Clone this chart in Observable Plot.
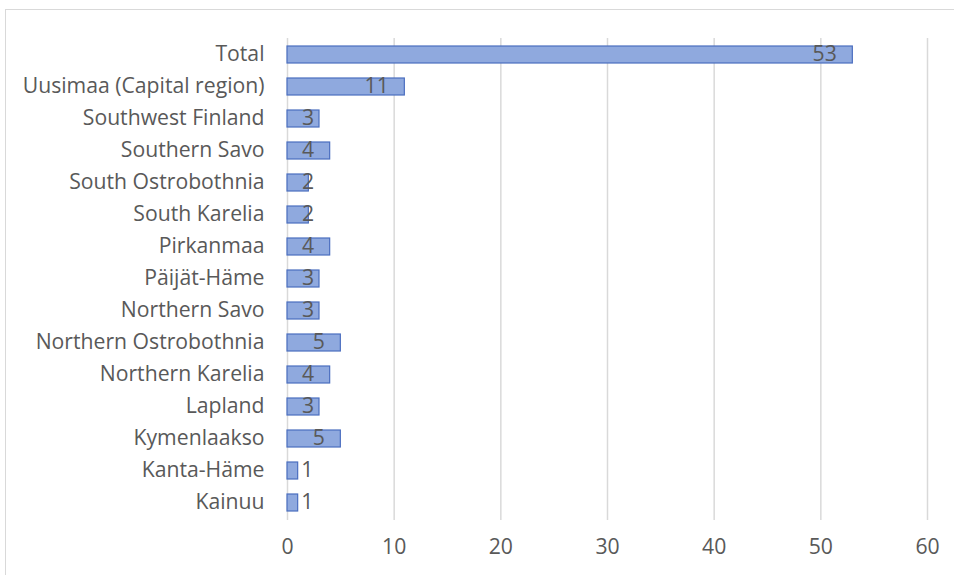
<!DOCTYPE html>
<html>
<head>
<meta charset="utf-8">
<script src="https://cdn.jsdelivr.net/npm/d3@7"></script>
<script src="https://cdn.jsdelivr.net/npm/@observablehq/plot@0.6"></script>
<style>
  html, body { margin: 0; padding: 0; background: #fff; }
  #wrap { position: relative; width: 954px; height: 575px; overflow: hidden; }
  #frame { position: absolute; left: 5px; top: 9px; width: 960px; height: 580px; border-top: 1px solid #d9d9d9; border-left: 1px solid #d9d9d9; }
  #chart { position: absolute; left: 0; top: 0; }
</style>
</head>
<body>
<div id="wrap"><div id="frame"></div><div id="chart"></div></div>
<script>
const regions = ["Total", "Uusimaa (Capital region)", "Southwest Finland", "Southern Savo", "South Ostrobothnia", "South Karelia", "Pirkanmaa", "Päijät-Häme", "Northern Savo", "Northern Ostrobothnia", "Northern Karelia", "Lapland", "Kymenlaakso", "Kanta-Häme", "Kainuu"];
const counts = [53, 11, 3, 4, 2, 2, 4, 3, 3, 5, 4, 3, 5, 1, 1];
const xTicks = [0, 10, 20, 30, 40, 50, 60];

const data = regions.map((r, i) => ({region: r, value: counts[i]}));
const inside = data.filter(d => d.value >= 2);
const outside = data.filter(d => d.value < 2);
const textColor = "#595959";
const font = "'Open Sans', sans-serif";
const fs = 21.2;

const chart = Plot.plot({
  width: 954,
  height: 575,
  marginLeft: 287,
  marginRight: 27,
  marginTop: 38,
  marginBottom: 55,
  style: {fontFamily: font, fontSize: fs + "px", color: textColor, background: "transparent"},
  x: {domain: [0, 60], ticks: xTicks, label: null},
  y: {domain: regions, paddingInner: 0.455, paddingOuter: 0.227, label: null},
  marks: [
    Plot.gridX(xTicks, {stroke: "#d9d9d9", strokeOpacity: 1, strokeWidth: 1.5}),
    Plot.barX(data, {x: "value", y: "region", fill: "#8FA9DE", stroke: "#4A6EBF", strokeWidth: 1.2}),
    Plot.text(inside, {x: d => Math.max(d.value, 4), y: "region", text: d => String(d.value), textAnchor: "end", dx: -16, dy: -1, fill: textColor, fontSize: fs}),
    Plot.text(outside, {x: "value", y: "region", text: d => String(d.value), textAnchor: "start", dx: 3, dy: -1, fill: textColor, fontSize: fs}),
    Plot.axisX({ticks: xTicks, tickSize: 0, tickPadding: 18, label: null, fontSize: fs, fill: textColor}),
    Plot.axisY({tickSize: 0, tickPadding: 23, dy: -1, label: null, fontSize: fs, fill: textColor})
  ]
});
document.getElementById("chart").appendChild(chart);
</script>
</body>
</html>
